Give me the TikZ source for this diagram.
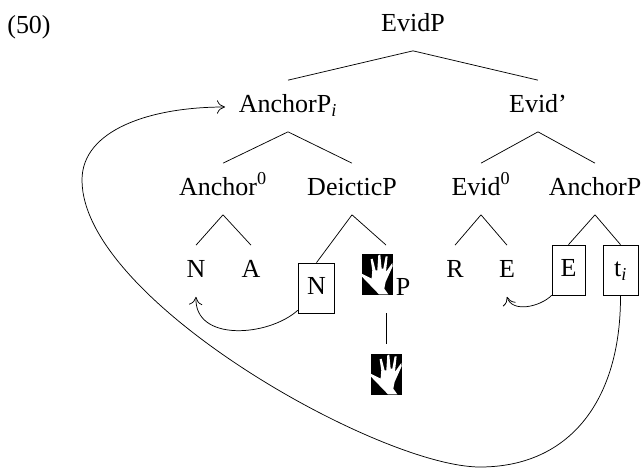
\documentclass[tikz,border=0pt]{standalone}
\usepackage{fontspec}
\setmainfont{Liberation Serif}
\usetikzlibrary{arrows.meta}
\tikzset{
  lab/.style={anchor=base,inner sep=0pt,text height=23.6pt,text depth=14.6pt},
  boxed/.style={draw,inner sep=0pt,minimum height=37.5pt,text height=9.8pt,text depth=0pt},
  handbox/.style={fill=black,inner sep=0pt,minimum width=23.25pt,minimum height=30.75pt},
  handglyph/.pic={\fill[white,x=.25pt,y=-.25pt]
      (52,122) -- (0,68) -- (0,60) -- (30,75) -- (32,50) -- (27,17) -- (33,15) -- (42,50) -- (47,50)
      -- (50,5) -- (56,3) -- (60,45) -- (65,45) -- (72,8) -- (78,8) -- (73,55) -- (92,28) -- (93,38)
      -- (72,85) -- (68,105) -- (80,122) -- cycle;}
}
\begin{document}
\begin{tikzpicture}[x=.75pt,y=-.75pt,line width=.55pt,>={Computer Modern Rightarrow[length=6pt,width=10pt]},font=\fontsize{19.5}{23}\selectfont]
\useasboundingbox (0,0) rectangle (643,468);

\node[anchor=base,inner sep=0pt] (exno) at (29,33) {(50)};

\node[lab] (evidp) at (413,31) {EvidP};
\node[lab] (anchorpi) at (288,112) {AnchorP\textsubscript{\textit{i}}};
\node[lab] (evidbar) at (538,112) {Evid’};

\node[lab] (anchorz) at (223,195) {Anchor\textsuperscript{0}};
\node[lab] (deicticp) at (352,195) {DeicticP};
\node[lab] (evidz) at (481,195) {Evid\textsuperscript{0}};
\node[lab] (anchorp) at (595,195) {AnchorP};

\node[lab] (n1) at (196,277) {N};
\node[lab] (a1) at (251,277) {A};
\node[boxed,minimum width=27.5pt] (boxn) at (316.5,288) {N};
\node[handbox] (hand1) at (377.5,274.5) {};
\node[anchor=base,inner sep=0pt] (p1) at (403,295) {P};
\node[lab] (r1) at (455,277) {R};
\node[lab] (e1) at (507,277) {E};
\node[boxed,minimum width=24.75pt] (boxe) at (568.5,270) {E};
\node[boxed,minimum width=26.25pt] (boxt) at (620.5,270) {t\textsubscript{\textit{i}}};
\node[handbox] (hand2) at (386.5,374.5) {};
\path (hand1.north west) pic {handglyph};
\path (hand2.north west) pic {handglyph};

\coordinate (handtop) at (386,245);
\coordinate (handbot) at (386.5,313);
\coordinate (tipanchor) at (225,107);

\draw (evidp.south) -- (anchorpi.north);
\draw (evidp.south) -- (evidbar.north);
\draw (anchorpi.south) -- (anchorz.north);
\draw (anchorpi.south) -- (deicticp.north);
\draw (evidbar.south) -- (evidz.north);
\draw (evidbar.south) -- (anchorp.north);
\draw (anchorz.south) -- (n1.north);
\draw (anchorz.south) -- (a1.north);
\draw (deicticp.south) -- (boxn.north);
\draw (deicticp.south) -- (handtop);
\draw (evidz.south) -- (r1.north);
\draw (evidz.south) -- (e1.north);
\draw (anchorp.south) -- (boxe.north);
\draw (anchorp.south) -- (boxt.north);
\draw[shorten >=7.5pt] (handbot) -- (hand2.north);

\draw[->] (boxn.230) .. controls (268,337) and (194,342) .. (n1.south);
\draw[->] (boxe.south west) .. controls (540,307) and (512,313) .. (e1.south);
\draw[->] (boxt.south) .. controls (621,400) and (570,467) .. (480,467)
  .. controls (380,467) and (82,300) .. (82,180)
  .. controls (82,130) and (150,107) .. (tipanchor);

\end{tikzpicture}
\end{document}
